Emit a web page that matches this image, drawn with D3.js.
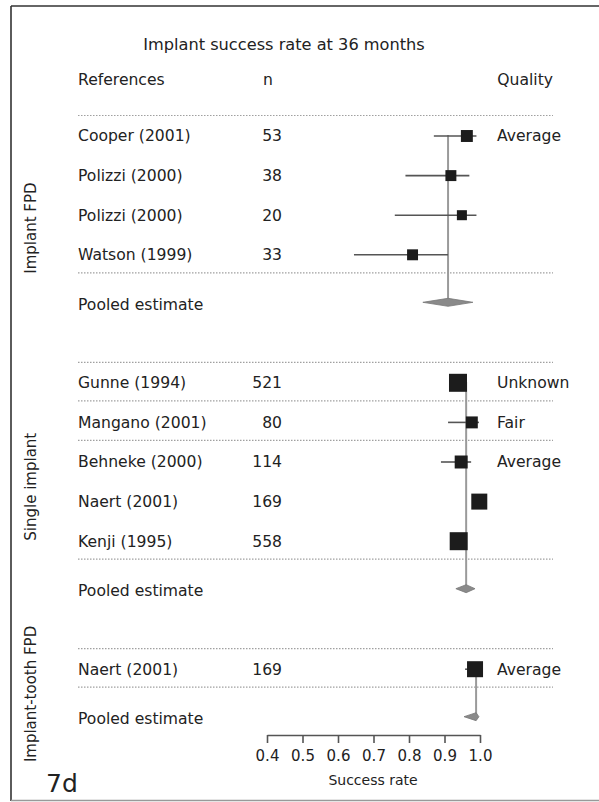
<!DOCTYPE html>
<html>
  <head>
    <meta charset="utf-8" />
    <script src="https://d3js.org/d3.v7.min.js"></script>
    <style>
      body { margin: 0; background: #fff; }
      text { font-family: "DejaVu Sans", sans-serif; fill: #222; }
      .rule { stroke: #a0a0a0; stroke-dasharray: 1.5 1.5; stroke-width: 1.2; }
      .axis path, .axis line { stroke: #555; stroke-width: 1.6; }
    </style>
  </head>
  <body>
    <svg id="chart" width="599" height="802"></svg>

    <script>
      // data
      const groups = ["Implant FPD", "Single implant", "Implant-tooth FPD"];
      const studies = ["Cooper (2001)", "Polizzi (2000)", "Polizzi (2000)", "Watson (1999)",
        "Gunne (1994)", "Mangano (2001)", "Behneke (2000)", "Naert (2001)", "Kenji (1995)",
        "Naert (2001)"];
      const studyGroup = [0, 0, 0, 0, 1, 1, 1, 1, 1, 2];
      const sampleSizes = [53, 38, 20, 33, 521, 80, 114, 169, 558, 169];
      const rates = [0.963, 0.918, 0.949, 0.81, 0.938, 0.977, 0.947, 0.998, 0.94, 0.986];
      const lower = [0.87, 0.79, 0.76, 0.645, 0.93, 0.91, 0.89, 0.99, 0.93, 0.958];
      const upper = [0.99, 0.97, 0.99, 0.91, 0.95, 0.997, 0.975, 1.0, 0.95, 1.0];
      const weights = [44, 37, 31, 37, 100, 44, 52, 79, 100, 79]; // relative box area
      const quality = ["Average", "", "", "", "Unknown", "Fair", "Average", "", "", "Average"];
      const ruledAfter = ["Gunne (1994)", "Mangano (2001)"];
      const pooledRate = [0.91, 0.961, 0.989];
      const pooledLower = [0.839, 0.932, 0.955];
      const pooledUpper = [0.98, 0.986, 0.997];
      const xTicks = [0.4, 0.5, 0.6, 0.7, 0.8, 0.9, 1.0];

      const svg = d3.select("#chart");
      const fs = "15.6px";

      const x = d3.scaleLinear().domain([0.4, 1.0]).range([267, 480]);
      const box = d3.scaleSqrt().domain([0, 100]).range([0, 18]);

      // vertical layout
      const left = 78, right = 553, nRight = 282, qualX = 497;
      const rowStep = 39.6, pooledStep = 49.5, groupStep = 78.5;
      let y = 136;
      const rowY = [], pooledY = [];
      groups.forEach((g, gi) => {
        const idx = studyGroup.map((s, i) => (s === gi ? i : -1)).filter(i => i >= 0);
        idx.forEach((i, k) => { rowY[i] = y; if (k < idx.length - 1) y += rowStep; });
        y += pooledStep;
        pooledY[gi] = y;
        y += groupStep;
      });

      // frame
      svg.append("line").attr("x1", 11).attr("x2", 11).attr("y1", 6).attr("y2", 801)
        .attr("stroke", "#333").attr("stroke-width", 1.6);
      svg.append("line").attr("x1", 11).attr("x2", 599).attr("y1", 6).attr("y2", 6)
        .attr("stroke", "#333").attr("stroke-width", 1.6);
      svg.append("line").attr("x1", 11).attr("x2", 599).attr("y1", 800.5).attr("y2", 800.5)
        .attr("stroke", "#999").attr("stroke-width", 1.5);

      // title and headers
      svg.append("text").attr("x", 284).attr("y", 44).attr("text-anchor", "middle")
        .attr("dy", "0.35em").style("font-size", "16.2px").text("Implant success rate at 36 months");
      svg.append("text").attr("x", left).attr("y", 80).attr("dy", "0.35em")
        .style("font-size", fs).text("References");
      svg.append("text").attr("x", 268).attr("y", 80).attr("dy", "0.35em").attr("text-anchor", "middle")
        .style("font-size", fs).text("n");
      svg.append("text").attr("x", right).attr("y", 80).attr("dy", "0.35em").attr("text-anchor", "end")
        .style("font-size", fs).text("Quality");

      // dotted rules
      const rules = [];
      groups.forEach((g, gi) => {
        const idx = studyGroup.map((s, i) => (s === gi ? i : -1)).filter(i => i >= 0);
        rules.push(rowY[idx[0]] - 20.5);
        idx.forEach((i, k) => {
          if (k === idx.length - 1 || ruledAfter.includes(studies[i]) && studyGroup[i] === 1) rules.push(rowY[i] + 18);
        });
      });
      svg.selectAll("line.rule").data(rules).join("line").attr("class", "rule")
        .attr("x1", left).attr("x2", right).attr("y1", d => d).attr("y2", d => d);

      // group labels
      svg.selectAll("text.group").data(groups).join("text").attr("class", "group")
        .attr("transform", (d, gi) => {
          const first = rowY[studyGroup.indexOf(gi)];
          return `translate(31,${(first + pooledY[gi]) / 2 + (gi === 0 ? 8 : 0)}) rotate(-90)`;
        })
        .attr("text-anchor", "middle").attr("dy", "0.35em").style("font-size", "15px").text(d => d);

      // pooled reference lines
      svg.selectAll("line.ref").data(groups).join("line").attr("class", "ref")
        .attr("x1", (d, gi) => x(pooledRate[gi])).attr("x2", (d, gi) => x(pooledRate[gi]))
        .attr("y1", (d, gi) => rowY[studyGroup.indexOf(gi)] - 1).attr("y2", (d, gi) => pooledY[gi])
        .attr("stroke", "#9a9a9a").attr("stroke-width", 2);

      // study rows
      const rows = svg.selectAll("g.row").data(studies).join("g").attr("class", "row");
      rows.append("text").attr("x", left).attr("y", (d, i) => rowY[i]).attr("dy", "0.35em")
        .style("font-size", fs).text(d => d);
      rows.append("text").attr("x", nRight).attr("y", (d, i) => rowY[i]).attr("dy", "0.35em")
        .attr("text-anchor", "end").style("font-size", fs).text((d, i) => sampleSizes[i]);
      rows.append("text").attr("x", qualX).attr("y", (d, i) => rowY[i]).attr("dy", "0.35em")
        .style("font-size", fs).text((d, i) => quality[i]);
      rows.append("line")
        .attr("x1", (d, i) => x(lower[i])).attr("x2", (d, i) => x(upper[i]))
        .attr("y1", (d, i) => rowY[i]).attr("y2", (d, i) => rowY[i])
        .attr("stroke", "#555").attr("stroke-width", 1.6);
      rows.append("rect")
        .attr("x", (d, i) => x(rates[i]) - box(weights[i]) / 2)
        .attr("y", (d, i) => rowY[i] - box(weights[i]) / 2)
        .attr("width", (d, i) => box(weights[i])).attr("height", (d, i) => box(weights[i]))
        .attr("fill", "#1c1c1c");

      // pooled estimates
      svg.selectAll("text.pooled").data(groups).join("text").attr("class", "pooled")
        .attr("x", left).attr("y", (d, gi) => pooledY[gi]).attr("dy", "0.35em")
        .style("font-size", fs).text("Pooled estimate");
      svg.selectAll("path.diamond").data(groups).join("path").attr("class", "diamond")
        .attr("d", (d, gi) => {
          const cy = pooledY[gi] - 2, h = 4;
          return `M${x(pooledLower[gi])},${cy} L${x(pooledRate[gi])},${cy - h} L${x(pooledUpper[gi])},${cy} L${x(pooledRate[gi])},${cy + h} Z`;
        })
        .attr("fill", "#8a8a8a").attr("stroke", "#777").attr("stroke-width", 0.8);

      // axis
      const axis = svg.append("g").attr("class", "axis").attr("transform", "translate(0,735)")
        .call(d3.axisBottom(x).tickValues(xTicks).tickFormat(d3.format(".1f")).tickSize(8).tickSizeOuter(0));
      axis.selectAll("text").style("font-size", "15px").attr("fill", "#222").attr("dy", "1.0em");
      svg.append("text").attr("x", 373).attr("y", 780).attr("text-anchor", "middle").attr("dy", "0.35em")
        .style("font-size", "14px").text("Success rate");

      svg.append("text").attr("x", 46).attr("y", 783).attr("dy", "0.35em")
        .style("font-size", "25px").text("7d");
    </script>
  </body>
</html>
